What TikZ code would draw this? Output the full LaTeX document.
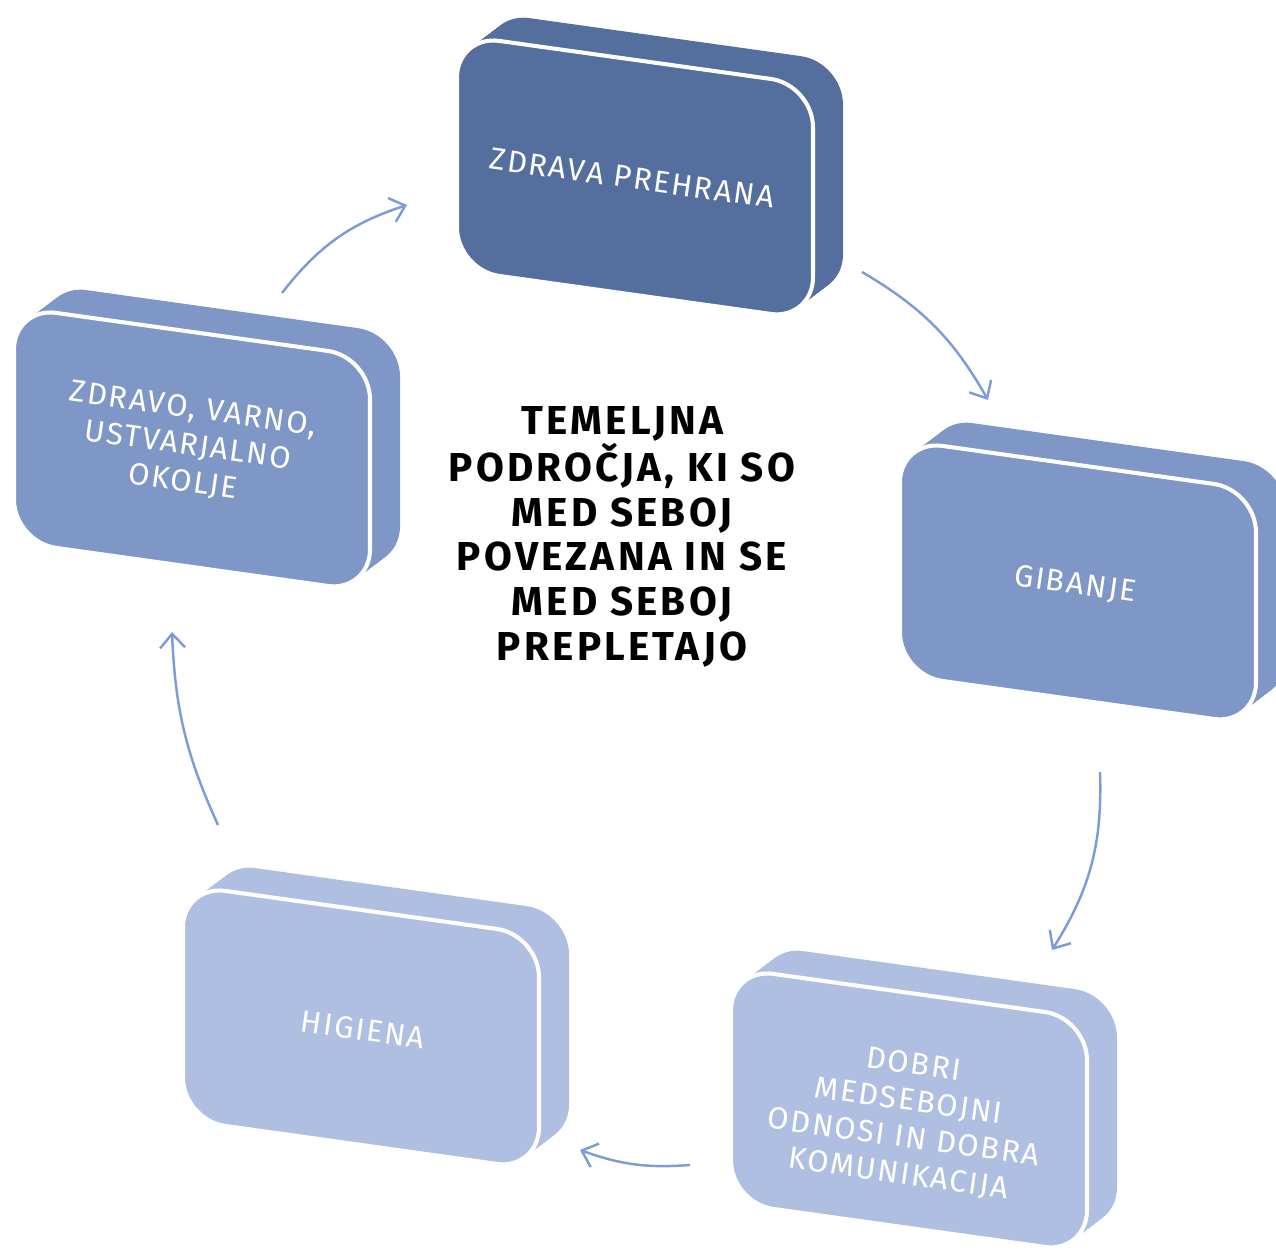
\documentclass[tikz,border=0pt]{standalone}
\usepackage{fontspec}
\setmainfont{Fira Sans}
\usepackage{xcolor}
\usetikzlibrary{arrows.meta}
\usetikzlibrary{calc}

\definecolor{topblue}{RGB}{84,110,158}
\definecolor{midblue}{RGB}{127,151,198}
\definecolor{lightblue}{RGB}{175,191,225}
\definecolor{arrowblue}{RGB}{125,155,215}

\begin{document}
\begin{tikzpicture}[x=0.02cm, y=-0.02cm,
			boxtext/.style={align=center, text=white, font=\fontsize{17.5}{21}\selectfont\addfontfeatures{LetterSpace=6}, rotate=-8},
			maintext/.style={align=center, text=black, font=\bfseries\fontsize{23}{25.4}\selectfont\addfontfeatures{LetterSpace=8}},
			cyclearrow/.style={draw=arrowblue, line width=1.4pt, -{Straight Barb[length=2.8mm,width=5mm]}},
			]
			\clip (0,0) rectangle (1276,1250);
			
			%Boxes
			\foreach \bx/\by/\bcol in {457/35/topblue, 900/440/midblue, 731/968/lightblue, 183/885/lightblue, 14/307/midblue}{
				\begin{scope}[shift={(\bx,\by)}, yslant=-0.14]
					\foreach \t in {1,0.95,...,0}
						\fill[\bcol, rounded corners=0.85cm] (30*\t,-27*\t) rectangle +(356,235);
					\filldraw[fill=\bcol, draw=white, line width=2.3pt, rounded corners=0.85cm] (0,0) rectangle +(356,235);
				\end{scope}
			}
			
			%Nodes
			\node[boxtext] (prehrana) at (632,178) {ZDRAVA PREHRANA};
			\node[boxtext] (gibanje) at (1075,585) {GIBANJE};
			\node[boxtext] (odnosi) at (906,1120) {DOBRI\\ MEDSEBOJNI\\ ODNOSI IN DOBRA\\ KOMUNIKACIJA};
			\node[boxtext] (higiena) at (363,1030) {HIGIENA};
			\node[boxtext] (okolje) at (188,446) {ZDRAVO, VARNO,\\ USTVARJALNO\\ OKOLJE};
			\node[maintext] (temeljna) at (622,537) {TEMELJNA\\ PODROČJA, KI SO\\ MED SEBOJ\\ POVEZANA IN SE\\ MED SEBOJ\\ PREPLETAJO};
			
			%Arrow ends
			\coordinate (a1s) at (282,293);
			\coordinate (a1e) at (407,205);
			\coordinate (a2s) at (862,272);
			\coordinate (a2e) at (988,400);
			\coordinate (a3s) at (1100,772);
			\coordinate (a3e) at (1052,950);
			\coordinate (a4s) at (690,1165);
			\coordinate (a4e) at (580,1150);
			\coordinate (a5s) at (218,825);
			\coordinate (a5e) at (172,632);
			
			%Lines
			\draw[cyclearrow] (a1s) to[bend left=17] (a1e);
			\draw[cyclearrow] (a2s) to[bend left=15] (a2e);
			\draw[cyclearrow] (a3s) to[bend left=17] (a3e);
			\draw[cyclearrow] (a4s) to[bend left=12] (a4e);
			\draw[cyclearrow] (a5s) to[bend left=11] (a5e);
		\end{tikzpicture}
\end{document}
